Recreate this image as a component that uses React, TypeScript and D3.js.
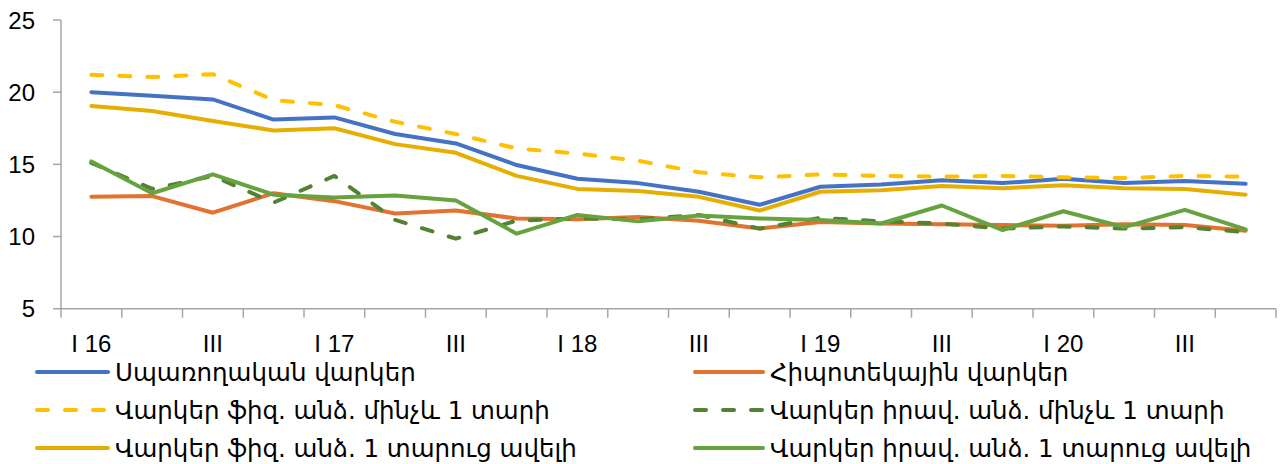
import React from "react";
import * as d3 from "d3";

const categories = [
  "I 16", "II 16", "III 16", "IV 16",
  "I 17", "II 17", "III 17", "IV 17",
  "I 18", "II 18", "III 18", "IV 18",
  "I 19", "II 19", "III 19", "IV 19",
  "I 20", "II 20", "III 20", "IV 20",
];
const tickLabels = [
  "I 16", "", "III", "", "I 17", "", "III", "", "I 18", "", "III", "",
  "I 19", "", "III", "", "I 20", "", "III", "",
];
const yTicks = [5, 10, 15, 20, 25];

const consumer = [20.0, 19.75, 19.5, 18.1, 18.25, 17.1, 16.45, 14.95, 14.0, 13.7, 13.1, 12.2, 13.45, 13.6, 13.9, 13.7, 14.0, 13.7, 13.85, 13.65];
const mortgage = [12.75, 12.8, 11.65, 13.0, 12.45, 11.6, 11.8, 11.25, 11.2, 11.35, 11.1, 10.55, 11.0, 10.9, 10.85, 10.8, 10.75, 10.85, 10.8, 10.4];
const physShort = [21.2, 21.05, 21.25, 19.45, 19.1, 17.95, 17.1, 16.1, 15.75, 15.25, 14.45, 14.1, 14.3, 14.2, 14.15, 14.2, 14.1, 14.05, 14.2, 14.15];
const legalShort = [15.1, 13.3, 14.2, 12.35, 14.2, 11.15, 9.85, 11.1, 11.25, 11.2, 11.5, 10.55, 11.3, 11.05, 10.9, 10.55, 10.7, 10.55, 10.65, 10.3];
const physLong = [19.05, 18.7, 18.0, 17.35, 17.5, 16.4, 15.8, 14.2, 13.3, 13.15, 12.75, 11.8, 13.1, 13.2, 13.5, 13.35, 13.55, 13.35, 13.3, 12.9];
const legalLong = [15.2, 13.0, 14.3, 12.9, 12.7, 12.85, 12.5, 10.2, 11.5, 11.05, 11.45, 11.25, 11.15, 10.9, 12.15, 10.45, 11.75, 10.65, 11.85, 10.5];

const seriesNames = [
  "Սպառողական վարկեր",
  "Հիպոտեկային վարկեր",
  "Վարկեր ֆիզ. անձ. մինչև 1 տարի",
  "Վարկեր իրավ. անձ. մինչև 1 տարի",
  "Վարկեր ֆիզ. անձ. 1 տարուց ավելի",
  "Վարկեր իրավ. անձ. 1 տարուց ավելի",
];
const seriesValues = [consumer, mortgage, physShort, legalShort, physLong, legalLong];
const seriesColors = ["#4472C4", "#E2722F", "#FFC000", "#548235", "#E5AE00", "#66A33F"];
const seriesDashed = [false, false, true, true, false, false];

const W = 1282;
const H = 464;
const left = 61;
const right = 1276;
const top = 20;
const bottom = 308.7;

export default function App() {
  const x = d3.scaleBand<string>().domain(categories).range([left, right]).padding(0);
  const y = d3.scaleLinear().domain([5, 25]).range([bottom, top]);
  const cx = (i: number) => (x(categories[i]) as number) + x.bandwidth() / 2;
  const line = d3
    .line<number>()
    .x((_, i) => cx(i))
    .y((d) => y(d));

  const axisColor = "#A6A6A6";
  const tickFont = "'Liberation Sans', Arial, sans-serif";
  const legendFont = "'DejaVu Sans', sans-serif";

  const boundaries = d3.range(categories.length + 1).map((i) =>
    i < categories.length ? (x(categories[i]) as number) : right
  );

  const legendRows = [372, 410, 448];
  const legendCols = [
    { x1: 37, x2: 108, tx: 115 },
    { x1: 695, x2: 763, tx: 770 },
  ];

  return (
    <svg
      width={W}
      height={H}
      style={{ position: "absolute", left: 0, top: 0, background: "#fff" }}
    >
      {/* y axis */}
      <line x1={left} x2={left} y1={top} y2={bottom} stroke={axisColor} strokeWidth={1.5} />
      {yTicks.map((t) => (
        <g key={t}>
          <line x1={left - 8} x2={left} y1={y(t)} y2={y(t)} stroke={axisColor} strokeWidth={1.5} />
          <text
            x={35}
            y={y(t)}
            dy="0.36em"
            textAnchor="end"
            fontFamily={tickFont}
            fontSize={24}
            fill="#000"
          >
            {t}
          </text>
        </g>
      ))}
      {/* x axis */}
      <line x1={left} x2={right} y1={bottom} y2={bottom} stroke={axisColor} strokeWidth={1.5} />
      {boundaries.map((bx, i) => (
        <line key={i} x1={bx} x2={bx} y1={bottom} y2={bottom + 9} stroke={axisColor} strokeWidth={1.5} />
      ))}
      {tickLabels.map((lab, i) =>
        lab ? (
          <text
            key={i}
            x={cx(i)}
            y={351.5}
            textAnchor="middle"
            fontFamily={tickFont}
            fontSize={24}
            fill="#000"
          >
            {lab}
          </text>
        ) : null
      )}
      {/* series */}
      {seriesValues.map((vals, s) => (
        <path
          key={s}
          d={line(vals) || ""}
          fill="none"
          stroke={seriesColors[s]}
          strokeWidth={4}
          strokeLinejoin="round"
          strokeLinecap="round"
          strokeDasharray={seriesDashed[s] ? "11 17" : undefined}
        />
      ))}
      {/* legend */}
      {seriesNames.map((name, s) => {
        const col = legendCols[s % 2];
        const ry = legendRows[Math.floor(s / 2)];
        return (
          <g key={name}>
            <line
              x1={col.x1}
              x2={col.x2}
              y1={ry}
              y2={ry}
              stroke={seriesColors[s]}
              strokeWidth={4}
              strokeLinecap="round"
              strokeDasharray={seriesDashed[s] ? "11 17" : undefined}
            />
            <text
              x={col.tx}
              y={ry}
              dy="0.36em"
              fontFamily={legendFont}
              fontSize={24.5}
              fill="#000"
            >
              {name}
            </text>
          </g>
        );
      })}
    </svg>
  );
}
